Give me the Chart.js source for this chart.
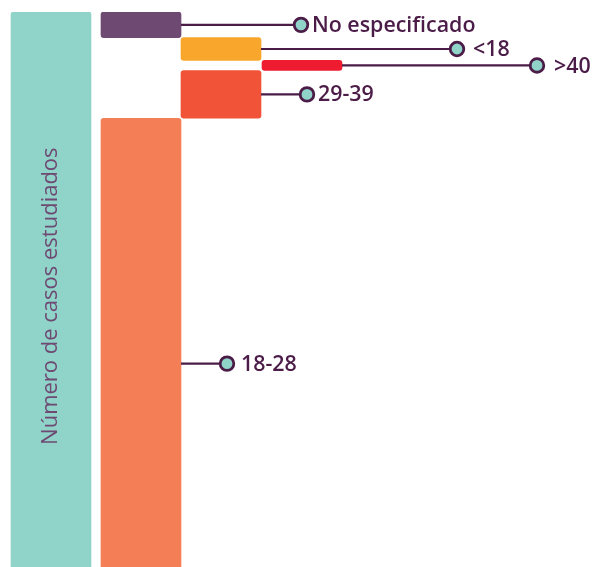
<!DOCTYPE html>
<html><head><meta charset="utf-8">
<script src="https://cdn.jsdelivr.net/npm/chart.js@4"></script>
<style>
html,body{margin:0;padding:0;overflow:hidden;background:#fff;}
#wrap{width:593px;height:625px;position:relative;}
</style></head>
<body><div id="wrap"><canvas id="c"></canvas></div>
<script>
// Data
const totalLabel = 'Número de casos estudiados';
const categories = ['No especificado', '<18', '>40', '29-39', '18-28'];
const values = [4.3, 3.8, 1.7, 8.0, 82.2];          // share of cases (%)
const columns = [1, 2, 3, 2, 1];                     // depth column of each segment
const colors = ['#6e4a73', '#f9a72c', '#ee1b31', '#f15338', '#f47f56'];
const totalColor = '#8fd3c9';
// layout/style
const columnPos = [0, 1.125, 2.125, 3.1375];
const leaderLen = [120, 196, 195, 46, 46];
const labelGap = [11, 16, 17, 11, 14];

const total = values.reduce((a, b) => a + b, 0);
let acc = 0;
const points = [{x: columnPos[0], y: [0, total]}];
const bg = [totalColor];
values.forEach((v, i) => {
  points.push({x: columnPos[columns[i]], y: [acc, acc + v]});
  bg.push(colors[i]);
  acc += v;
});

const labelPlugin = {
  id: 'labels',
  afterDatasetsDraw(chart) {
    const ctx = chart.ctx;
    const meta = chart.getDatasetMeta(0);
    const ys = chart.scales.y;
    ctx.save();
    // total label
    const t = meta.data[0];
    ctx.translate(t.x, ys.getPixelForValue(47.6));
    ctx.rotate(-Math.PI / 2);
    ctx.fillStyle = '#6e4a73';
    ctx.font = '400 22px "Open Sans"';
    ctx.textAlign = 'center';
    ctx.textBaseline = 'middle';
    ctx.fillText(totalLabel, 0, 0);
    ctx.restore();
    categories.forEach((lab, i) => {
      const el = meta.data[i + 1];
      const p = points[i + 1];
      const yMid = ys.getPixelForValue((p.y[0] + p.y[1]) / 2);
      const x0 = el.x + el.width / 2;
      const cx = x0 + leaderLen[i];
      ctx.save();
      ctx.strokeStyle = '#4b1c47';
      ctx.lineWidth = 2.2;
      ctx.beginPath();
      ctx.moveTo(x0, yMid);
      ctx.lineTo(cx, yMid);
      ctx.stroke();
      ctx.beginPath();
      ctx.arc(cx, yMid, 6.8, 0, Math.PI * 2);
      ctx.fillStyle = '#8fd3c9';
      ctx.fill();
      ctx.lineWidth = 2.8;
      ctx.stroke();
      ctx.fillStyle = '#4b1c47';
      ctx.font = '600 21.4px "Open Sans"';
      ctx.textAlign = 'left';
      ctx.textBaseline = 'middle';
      ctx.fillText(lab, cx + labelGap[i], yMid + 1);
      ctx.restore();
    });
  }
};

new Chart(document.getElementById('c'), {
  type: 'bar',
  data: {
    datasets: [{
      data: points,
      backgroundColor: bg,
      borderRadius: 3,
      borderSkipped: false,
      barThickness: 80
    }]
  },
  options: {
    responsive: true,
    maintainAspectRatio: false,
    animation: false,
    layout: {padding: {top: 12, bottom: 16, left: 0, right: 0}},
    plugins: {legend: {display: false}, tooltip: {enabled: false}},
    scales: {
      x: {type: 'linear', display: false, offset: false, min: -0.6375, max: 6.775},
      y: {display: false, reverse: true, min: 0, max: total}
    }
  },
  plugins: [labelPlugin]
});
</script></body></html>
